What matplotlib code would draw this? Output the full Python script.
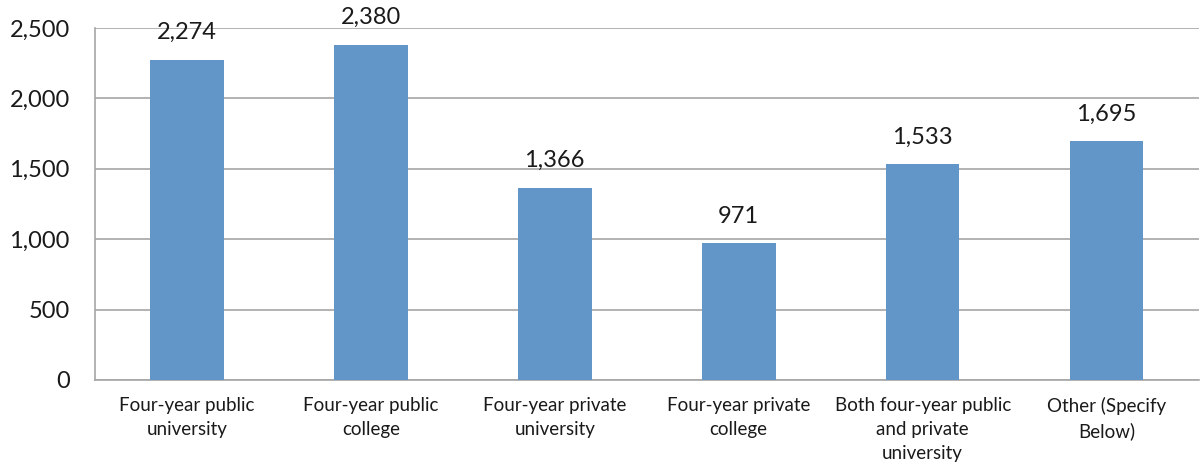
import matplotlib.pyplot as plt
from matplotlib.ticker import FuncFormatter

categories = [
    "Four-year public\nuniversity",
    "Four-year public\ncollege",
    "Four-year private\nuniversity",
    "Four-year private\ncollege",
    "Both four-year public\nand private\nuniversity",
    "Other (Specify\nBelow)",
]
values = [2274, 2380, 1366, 971, 1533, 1695]
y_ticks = [0, 500, 1000, 1500, 2000, 2500]

BAR_COLOR = "#6296C9"
GRID_COLOR = "#A6A6A6"

plt.rcParams["font.family"] = ["Lato", "DejaVu Sans"]

fig = plt.figure(figsize=(12.01, 4.70), dpi=100)
ax = fig.add_axes([0.079, 0.1915, 0.919, 0.749])

x = range(len(categories))
bars = ax.bar(x, values, width=0.40, color=BAR_COLOR, zorder=3)

for rect, v in zip(bars, values):
    ax.annotate(f"{v:,}", (rect.get_x() + rect.get_width() / 2, v),
                xytext=(0, 12), textcoords="offset points",
                ha="center", va="bottom", fontsize=17, color="#1a1a1a")

ax.set_xlim(-0.5, len(categories) - 0.5)
ax.set_ylim(0, 2500)
ax.set_yticks(y_ticks)
ax.yaxis.set_major_formatter(FuncFormatter(lambda v, _: f"{int(v):,}"))
ax.tick_params(axis="y", length=0, labelsize=17, pad=18, labelcolor="#1a1a1a")
ax.set_xticks(list(x))
ax.set_xticklabels(categories, fontsize=13.5, linespacing=1.5)
ax.tick_params(axis="x", length=0, pad=12, labelcolor="#1a1a1a")

ax.yaxis.grid(True, color=GRID_COLOR, linewidth=1.2, zorder=0)
for s in ["top", "right"]:
    ax.spines[s].set_visible(False)
for s in ["left", "bottom"]:
    ax.spines[s].set_color(GRID_COLOR)
    ax.spines[s].set_linewidth(1.2)

fig.savefig("out.png", dpi=100)
